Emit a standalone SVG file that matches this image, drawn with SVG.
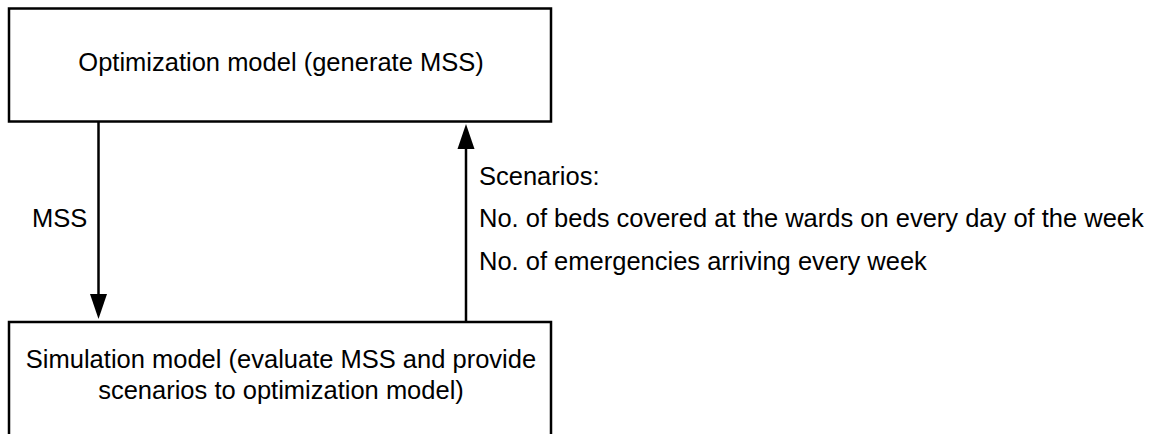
<svg xmlns="http://www.w3.org/2000/svg" width="1156" height="434" viewBox="0 0 1156 434">
  <style>
    .box { fill: #ffffff; stroke: #000000; stroke-width: 2.5; }
    .edge { fill: none; stroke: #000000; stroke-width: 2.5; }
    text { font-family: "Liberation Sans", Arial, sans-serif; font-size: 25.5px; fill: #000000; }
    .c { text-anchor: middle; }
  </style>
  <rect x="0" y="0" width="1156" height="434" fill="#ffffff"/>

  <g id="optimization">
    <rect class="box" x="9" y="8.5" width="542" height="113"/>
    <text class="c" x="281" y="71">Optimization model (generate MSS)</text>
  </g>

  <g id="simulation">
    <rect class="box" x="9" y="322" width="542" height="130"/>
    <text class="c" x="281" y="368">Simulation model (evaluate MSS and provide</text>
    <text class="c" x="281" y="399">scenarios to optimization model)</text>
  </g>

  <g id="connectors">
    <path class="edge" d="M98.5,122 L98.5,297"/>
    <path d="M90,294 L107,294 L98.5,319 Z" fill="#000000"/>
    <path class="edge" d="M466,322 L466,146"/>
    <path d="M457.5,149 L474.5,149 L466,124 Z" fill="#000000"/>
    <text x="32" y="227">MSS</text>
    <text x="479" y="185">Scenarios:</text>
    <text x="479" y="227">No. of beds covered at the wards on every day of the week</text>
    <text x="479" y="270">No. of emergencies arriving every week</text>
  </g>
</svg>
